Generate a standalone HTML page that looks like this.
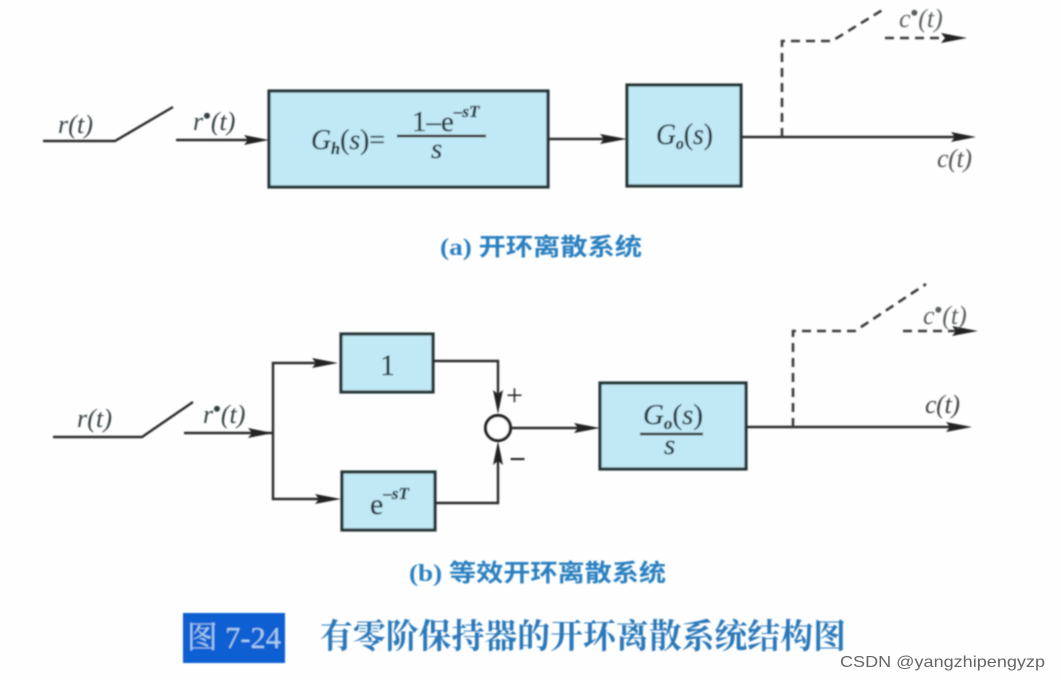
<!DOCTYPE html>
<html><head><meta charset="utf-8">
<style>
html,body{margin:0;padding:0;background:#fff;width:1061px;height:680px;overflow:hidden}
svg{display:block}
.m{font-family:"Liberation Serif",serif;font-size:26px;fill:#343f42}
.t{fill:#24383e;stroke:#24383e;stroke-width:.35}
.i{font-style:italic}
.sub{font-size:17px;font-style:italic;font-weight:bold}
.sup{font-size:17px;font-style:italic;font-weight:bold}
.cap{font-family:"Liberation Serif","Noto Sans CJK SC",sans-serif;font-size:24px;font-weight:bold;fill:#2b80c0}
.box{fill:#c0e8f5;stroke:#263434;stroke-width:3.2}
.l{fill:none;stroke:#2c2c2c;stroke-width:2.4}
.d{fill:none;stroke:#3a3a3a;stroke-width:2.6;stroke-dasharray:9 6}
.a{fill:#222}
</style></head><body>
<svg width="1061" height="680" viewBox="0 0 1061 680" xmlns="http://www.w3.org/2000/svg">
<defs><filter id="b" x="-5%" y="-5%" width="110%" height="110%"><feGaussianBlur stdDeviation="0.7"/></filter></defs>
<rect width="1061" height="680" fill="#fefefe"/>
<g filter="url(#b)">
<!-- (a) -->
<rect class="box" x="269" y="91" width="279" height="96"/>
<rect class="box" x="627" y="85" width="114" height="101"/>
<polyline class="l" points="43,141 115,141 173,107"/>
<line class="l" x1="176" y1="140" x2="250" y2="140"/>
<polygon class="a" points="244,135 269,140 244,145 248,140"/>
<line class="l" x1="548" y1="139" x2="605" y2="139"/>
<polygon class="a" points="600,134 627,139 600,144 604,139"/>
<line class="l" x1="741" y1="137" x2="958" y2="137"/>
<polygon class="a" points="951,132 976,137 951,142 955,137"/>
<polyline class="d" points="782,137 782,41 832,41 884,9"/>
<line class="d" x1="885" y1="38" x2="948" y2="38" stroke-dasharray="6 5"/>
<polygon class="a" points="941,33 967,38 941,43 945,38"/>
<text class="m i" x="58" y="133" textLength="35">r(t)</text>
<text class="m" x="193" y="130"><tspan class="i">r</tspan><tspan font-size="22" dy="-7" font-weight="bold">•</tspan><tspan class="i" dy="7">(t)</tspan></text>
<text class="m t" x="311" y="149" style="font-size:29px" textLength="74" lengthAdjust="spacingAndGlyphs"><tspan class="i">G</tspan><tspan class="sub" dy="5">h</tspan><tspan dy="-5">(</tspan><tspan class="i">s</tspan><tspan>)=</tspan></text>
<line class="l" x1="397" y1="136" x2="486" y2="136"/>
<text class="m t" x="412" y="131" style="font-size:29px">1–e<tspan class="sup" dy="-14">–sT</tspan></text>
<text class="m t i" x="431" y="158" style="font-size:29px">s</text>
<text class="m t" x="656" y="144" style="font-size:30px" textLength="57" lengthAdjust="spacingAndGlyphs"><tspan class="i">G</tspan><tspan class="sub" dy="5">o</tspan><tspan dy="-5">(</tspan><tspan class="i">s</tspan><tspan>)</tspan></text>
<text class="m" x="899" y="27" style="fill:#5a5f60"><tspan class="i">c</tspan><tspan font-size="22" dy="-7" font-weight="bold">•</tspan><tspan class="i" dy="7">(t)</tspan></text>
<text class="m i" x="937" y="167" style="fill:#555" textLength="35">c(t)</text>
<text class="cap" x="440" y="255" textLength="202" lengthAdjust="spacingAndGlyphs">(a) 开环离散系统</text>
<!-- (b) -->
<rect class="box" x="341" y="334" width="92" height="58"/>
<rect class="box" x="342" y="472" width="93" height="58"/>
<rect class="box" x="600" y="383" width="146" height="86"/>
<polyline class="l" points="53,437 142,437 193,402"/>
<line class="l" x1="184" y1="433" x2="273" y2="433"/>
<polygon class="a" points="248,428 273,433 248,438 252,433"/>
<polyline class="l" points="320,363 273,363 273,499 320,499"/>
<polygon class="a" points="312,358 338,363 312,368 316,363"/>
<polygon class="a" points="315,494 341,499 315,504 319,499"/>
<polyline class="l" points="433,361 498,361 498,400"/>
<polygon class="a" points="493,390 498,414 503,390 498,394"/>
<polyline class="l" points="435,503 498,503 498,460"/>
<polygon class="a" points="493,465 498,441 503,465 498,461"/>
<circle cx="498" cy="428" r="12.5" fill="#fff" stroke="#222" stroke-width="3.2"/>
<line class="l" x1="511" y1="428" x2="580" y2="428"/>
<polygon class="a" points="574,423 600,428 574,433 578,428"/>
<line class="l" x1="746" y1="427" x2="952" y2="427"/>
<polygon class="a" points="946,422 972,427 946,432 950,427"/>
<polyline class="d" points="793,427 793,331 855,331 926,284"/>
<line class="d" x1="903" y1="331" x2="958" y2="331" stroke-dasharray="6 5"/>
<polygon class="a" points="952,326 978,331 952,336 956,331"/>
<text class="m i" x="77" y="427" textLength="35">r(t)</text>
<text class="m" x="203" y="423"><tspan class="i">r</tspan><tspan font-size="22" dy="-7" font-weight="bold">•</tspan><tspan class="i" dy="7">(t)</tspan></text>
<text class="m t" x="380" y="375" style="font-size:30px">1</text>
<text class="m t" x="370" y="514" style="font-size:30px">e<tspan class="sup" dy="-15">–sT</tspan></text>
<text class="m" x="506" y="405" style="font-size:30px;fill:#222">+</text>
<text class="m" x="509" y="469" font-weight="bold" style="font-size:30px;fill:#222">−</text>
<line class="l" x1="640" y1="434" x2="703" y2="434"/>
<text class="m t" x="643" y="424" style="font-size:29px" textLength="60" lengthAdjust="spacingAndGlyphs"><tspan class="i">G</tspan><tspan class="sub" dy="5">o</tspan><tspan dy="-5">(</tspan><tspan class="i">s</tspan><tspan>)</tspan></text>
<text class="m t i" x="664" y="454" style="font-size:29px">s</text>
<text class="m" x="923" y="324" style="fill:#5a5f60"><tspan class="i">c</tspan><tspan font-size="22" dy="-7" font-weight="bold">•</tspan><tspan class="i" dy="7">(t)</tspan></text>
<text class="m i" x="925" y="413" style="fill:#444" textLength="35">c(t)</text>
<text class="cap" x="409" y="581" textLength="257" lengthAdjust="spacingAndGlyphs">(b) 等效开环离散系统</text>
<!-- title -->
<rect x="183" y="613" width="102" height="50" fill="#0c5fd2"/>
<text x="187" y="648" font-family="'Liberation Serif','Noto Serif CJK SC',serif" font-size="31" fill="#a8cdf0" textLength="94" lengthAdjust="spacingAndGlyphs">图 7-24</text>
<text x="320" y="648" font-family="'Liberation Serif','Noto Serif CJK SC',serif" font-size="34" font-weight="bold" fill="#2a78ba" textLength="526" lengthAdjust="spacingAndGlyphs">有零阶保持器的开环离散系统结构图</text>
</g>
<text x="840" y="667" font-family="'Liberation Sans',sans-serif" font-size="16" fill="#666" textLength="205" lengthAdjust="spacingAndGlyphs">CSDN @yangzhipengyzp</text>
</svg>
</body></html>
